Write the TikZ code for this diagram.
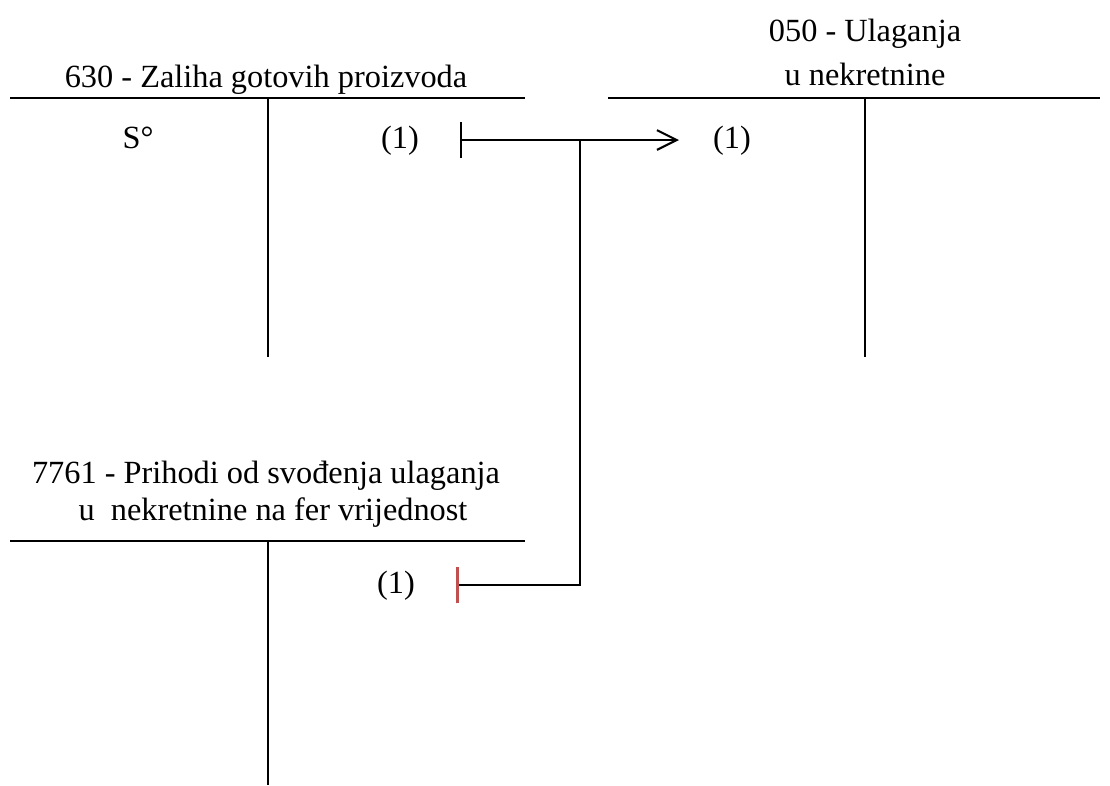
\documentclass[tikz,border=0pt]{standalone}
\usepackage{fontspec}
\setmainfont{Liberation Serif}
\usepackage{tikz}
\usetikzlibrary{arrows.meta}

\definecolor{tickred}{RGB}{192,80,77}

\tikzset{
	konto/.style = {line width = 2pt},
	knjizenje/.style = {line width = 1.5pt},
	natpis/.style = {anchor = base, inner sep = 0pt, font = \fontsize{23}{28}\selectfont}
}

\begin{document}
\begin{tikzpicture}[x = 0.025cm, y = -0.025cm]
		\useasboundingbox (0,0) rectangle (1110,785);

		% 630
		\draw[konto] (10,98) -- (525,98);
		\draw[konto] (268,98) -- (268,357);
		\node[natpis] (naslov630) at (266,87) {630 - Zaliha gotovih proizvoda};
		\node[natpis] (saldo630) at (138,148) {S°};
		\node[natpis] (st630) at (400,148) {(1)};

		% 050
		\draw[konto] (608,98) -- (1100,98);
		\draw[konto] (865,98) -- (865,357);
		\node[natpis] (naslov050a) at (865,41) {050 - Ulaganja};
		\node[natpis] (naslov050b) at (865,85) {u nekretnine};
		\node[natpis] (st050) at (732,148) {(1)};

		% 7761
		\draw[konto] (10,541) -- (525,541);
		\draw[konto] (268,541) -- (268,785);
		\node[natpis] (naslov7761a) at (266,483) {7761 - Prihodi od svođenja ulaganja};
		\node[natpis] (naslov7761b) at (273,520) {u\ \ nekretnine na fer vrijednost};
		\node[natpis] (st7761) at (396,593) {(1)};

		% knjizenje (1)
		\coordinate (iz630) at (460,140);
		\coordinate (u050) at (679,140);
		\coordinate (iz7761) at (456,585);
		\coordinate (spoj) at (580,140);

		\draw[knjizenje, {Bar[width=25pt]}-{Straight Barb[length=14pt, width=14pt]}] (iz630) -- (u050);
		\draw[knjizenje, {Bar[tickred, width=26pt, line width=2.2pt]}-] (iz7761) -| (spoj);

	\end{tikzpicture}
\end{document}
